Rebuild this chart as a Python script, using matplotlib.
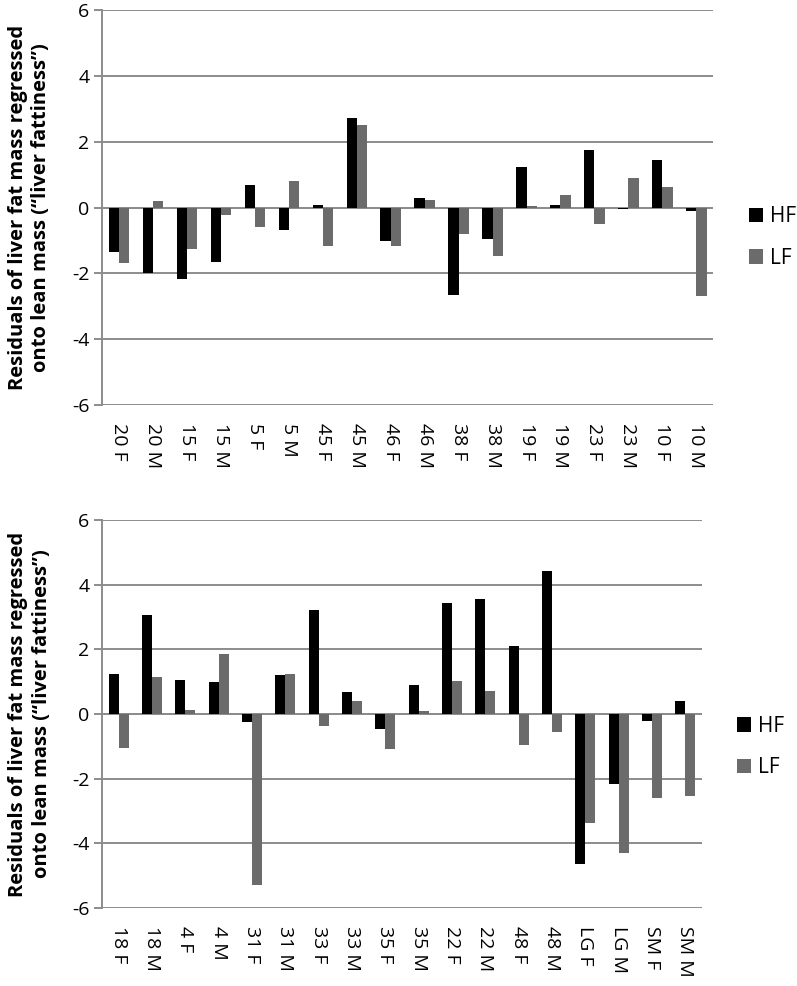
import numpy as np
import matplotlib.pyplot as plt

plt.rcParams['font.family'] = ['Open Sans', 'DejaVu Sans']
plt.rcParams['axes.unicode_minus'] = False

# top panel
top_labels = ['20 F', '20 M', '15 F', '15 M', '5 F', '5 M', '45 F', '45 M', '46 F',
              '46 M', '38 F', '38 M', '19 F', '19 M', '23 F', '23 M', '10 F', '10 M']
top_hf = [-1.34, -1.99, -2.17, -1.66, 0.67, -0.68, 0.07, 2.73, -1.02,
          0.30, -2.66, -0.96, 1.22, 0.09, 1.74, -0.05, 1.43, -0.09]
top_lf = [-1.69, 0.19, -1.27, -0.22, -0.58, 0.81, -1.18, 2.52, -1.17,
          0.23, -0.81, -1.47, 0.06, 0.37, -0.51, 0.90, 0.63, -2.68]

# bottom panel
bot_labels = ['18 F', '18 M', '4 F', '4 M', '31 F', '31 M', '33 F', '33 M', '35 F',
              '35 M', '22 F', '22 M', '48 F', '48 M', 'LG F', 'LG M', 'SM F', 'SM M']
bot_hf = [1.24, 3.07, 1.04, 0.99, -0.24, 1.22, 3.22, 0.67, -0.47,
          0.90, 3.44, 3.57, 2.11, 4.43, -4.65, -2.15, -0.20, 0.42]
bot_lf = [-1.04, 1.16, 0.13, 1.86, -5.27, 1.24, -0.36, 0.41, -1.09,
          0.10, 1.02, 0.70, -0.95, -0.55, -3.38, -4.30, -2.61, -2.54]

ylab = 'Residuals of liver fat mass regressed\nonto lean mass (\u201cliver fattiness\u201d)'
grid_c = '#8c8c8c'

fig = plt.figure(figsize=(7.97, 9.86), dpi=100)
ax1 = fig.add_axes([0.128, 0.589, 0.767, 0.401])
ax2 = fig.add_axes([0.128, 0.079, 0.753, 0.3935])

def draw(ax, labels, hf, lf, leg_xy):
    x = np.arange(len(labels))
    w = 0.3
    ax.bar(x - w/2, hf, w, color='black', label='HF', zorder=3)
    ax.bar(x + w/2, lf, w, color='#6b6b6b', label='LF', zorder=3)
    ax.set_xlim(-0.5, len(labels) - 0.5)
    ax.set_ylim(-6, 6)
    ax.set_yticks(np.arange(-6, 7, 2))
    ax.yaxis.grid(True, color=grid_c, linewidth=1.4, zorder=0)
    ax.axhline(0, color=grid_c, linewidth=1.4, zorder=2)
    for s in ['top', 'right', 'bottom']:
        ax.spines[s].set_visible(False)
    ax.spines['left'].set_color(grid_c)
    ax.spines['left'].set_linewidth(1.4)
    ax.tick_params(axis='y', length=6, width=1.4, color=grid_c, labelsize=14, pad=3)
    ax.set_xticks(x)
    ax.set_xticklabels(labels, rotation=-90, fontsize=14)
    ax.tick_params(axis='x', length=0, pad=13)
    ax.set_ylabel(ylab, fontsize=14.5, fontweight='bold', linespacing=1.25)
    ax.yaxis.set_label_coords(-0.083, 0.5)
    ax.legend(loc='center left', bbox_to_anchor=leg_xy, bbox_transform=fig.transFigure,
              frameon=False, fontsize=15, handlelength=0.7, handleheight=0.7,
              handletextpad=0.3, labelspacing=1.0)

draw(ax1, top_labels, top_hf, top_lf, (0.916, 0.759))
draw(ax2, bot_labels, bot_hf, bot_lf, (0.901, 0.2424))

fig.savefig('out.png', dpi=100)
